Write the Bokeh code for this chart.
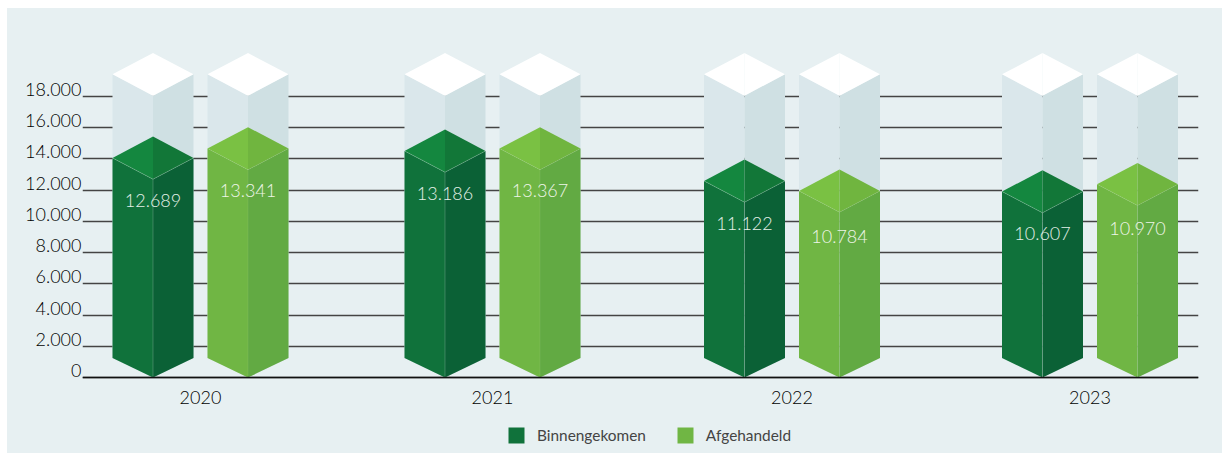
from bokeh.plotting import figure
from bokeh.models import (Range1d, LinearAxis, FixedTicker, Grid, Legend, LegendItem)
from bokeh.core.properties import value
from bokeh.embed import file_html
from bokeh.resources import INLINE

# data: column heights; the printed figures are the labels
years = ["2020", "2021", "2022", "2023"]
binnengekomen = [12690, 13139, 11219, 10540]
afgehandeld = [13293, 13290, 10579, 11008]
value_labels_b = ["12.689", "13.186", "11.122", "10.607"]
value_labels_a = ["13.341", "13.367", "10.784", "10.970"]
y_ticks = [0, 2000, 4000, 6000, 8000, 10000, 12000, 14000, 16000, 18000]
y_tick_labels = ["0", "2.000", "4.000", "6.000", "8.000", "10.000", "12.000", "14.000", "16.000", "18.000"]
ghost_top = 18040

# layout (pixel-like x units; 64 value units per px in y)
group_x = [200, 492, 791.5, 1089.5]
bar_shift = 47.5
half_w = 40.5
PX = 64
skew = 21.3 * PX
foot = 19.5 * PX
label_drop_b = [21, 21, 21, 20.3]
label_drop_a = [21, 20.5, 24, 22.8]

PANEL = "#e7f0f2"
FONT = "Lato Light"
LABEL_FONT = "Lato Light"

p = figure(width=1215, height=445, output_backend="svg", toolbar_location=None,
           x_range=Range1d(82, 1198), y_range=Range1d(-76 * PX, 344 * PX),
           frame_width=1116, frame_height=420, y_axis_location=None,
           min_border_left=75, min_border_right=24, min_border_top=25, min_border_bottom=0,
           margin=(8, 0, 0, 7), styles={"background-color": PANEL},
           background_fill_color=None, border_fill_color=None, outline_line_color=None)
p.xgrid.visible = False
p.ygrid.visible = False

p.extra_y_ranges["labels"] = Range1d(-83 * PX, 337 * PX)
ya = LinearAxis(y_range_name="labels", ticker=FixedTicker(ticks=y_ticks),
                major_label_overrides=dict(zip(y_ticks, y_tick_labels)))
ya.axis_line_color = None
ya.major_tick_line_color = None
ya.minor_tick_line_color = None
ya.major_label_standoff = -5
ya.major_label_text_font = FONT
ya.major_label_text_font_size = "18px"
ya.major_label_text_color = "#000000"
p.add_layout(ya, "left")

p.add_layout(Grid(dimension=1, ticker=FixedTicker(ticks=y_ticks),
                  grid_line_color="#444444", grid_line_width=1.4))

xa = p.xaxis[0]
xa.fixed_location = 0
xa.ticker = FixedTicker(ticks=group_x)
xa.major_label_overrides = dict(zip(group_x, years))
xa.axis_line_color = "#111111"
xa.axis_line_width = 1.5
xa.major_tick_line_color = None
xa.minor_tick_line_color = None
xa.major_label_standoff = 7
xa.major_label_text_font = FONT
xa.major_label_text_font_size = "18px"
xa.major_label_text_color = "#000000"


def prism(cx, v, left, right, top_l, top_r):
    """Front faces from the foot up to the value, and the lid on top of them."""
    lx, rx = cx - half_w, cx + half_w
    faces = p.patch([lx, cx, cx, lx], [foot, 0, v, v + skew], fill_color=left, line_color=None)
    p.patch([cx, rx, rx, cx], [0, foot, v + skew, v], fill_color=right, line_color=None)
    p.patch([lx, cx, cx], [v + skew, v, v + 2 * skew], fill_color=top_l, line_color=None)
    p.patch([cx, rx, cx], [v, v + skew, v + 2 * skew], fill_color=top_r, line_color=None)
    return faces


def edges(cx, v, color, alpha):
    p.multi_line([[cx, cx], [cx - half_w, cx, cx + half_w]],
                 [[0, v], [v + skew, v, v + skew]],
                 line_color=color, line_alpha=alpha, line_width=1)


r_b = r_a = None
for i, gx in enumerate(group_x):
    xb, xa_ = gx - bar_shift, gx + bar_shift
    for x in (xb, xa_):
        prism(x, ghost_top, "#dae7eb", "#cfe0e3", "#ffffff", "#ffffff")
    r_b = prism(xb, binnengekomen[i], "#10723b", "#0b6136", "#14873f", "#127738")
    edges(xb, binnengekomen[i], "#ffffff", 0.2)
    r_a = prism(xa_, afgehandeld[i], "#70b644", "#62aa43", "#7ac143", "#70b53f")
    edges(xa_, afgehandeld[i], "#ffffff", 0.07)
    p.text([xb], [binnengekomen[i]], text=[value_labels_b[i]], y_offset=label_drop_b[i],
           text_align="center", text_baseline="middle", text_color="#e4f0e8",
           text_font=value(LABEL_FONT), text_font_size="18px")
    p.text([xa_], [afgehandeld[i]], text=[value_labels_a[i]], y_offset=label_drop_a[i],
           text_align="center", text_baseline="middle", text_color="#eef5e8",
           text_font=value(LABEL_FONT), text_font_size="18px")

legend = Legend(items=[LegendItem(label="Binnengekomen", renderers=[r_b]),
                       LegendItem(label="Afgehandeld", renderers=[r_a])],
                orientation="horizontal", location=(424, 8),
                background_fill_alpha=0, border_line_color=None,
                padding=0, margin=0, spacing=29,
                glyph_width=20, glyph_height=20, label_standoff=11,
                label_text_font="Lato", label_text_font_size="15.4px", label_text_color="#444444")
p.add_layout(legend, "center")

open("out.html", "w").write(file_html(p, INLINE))
